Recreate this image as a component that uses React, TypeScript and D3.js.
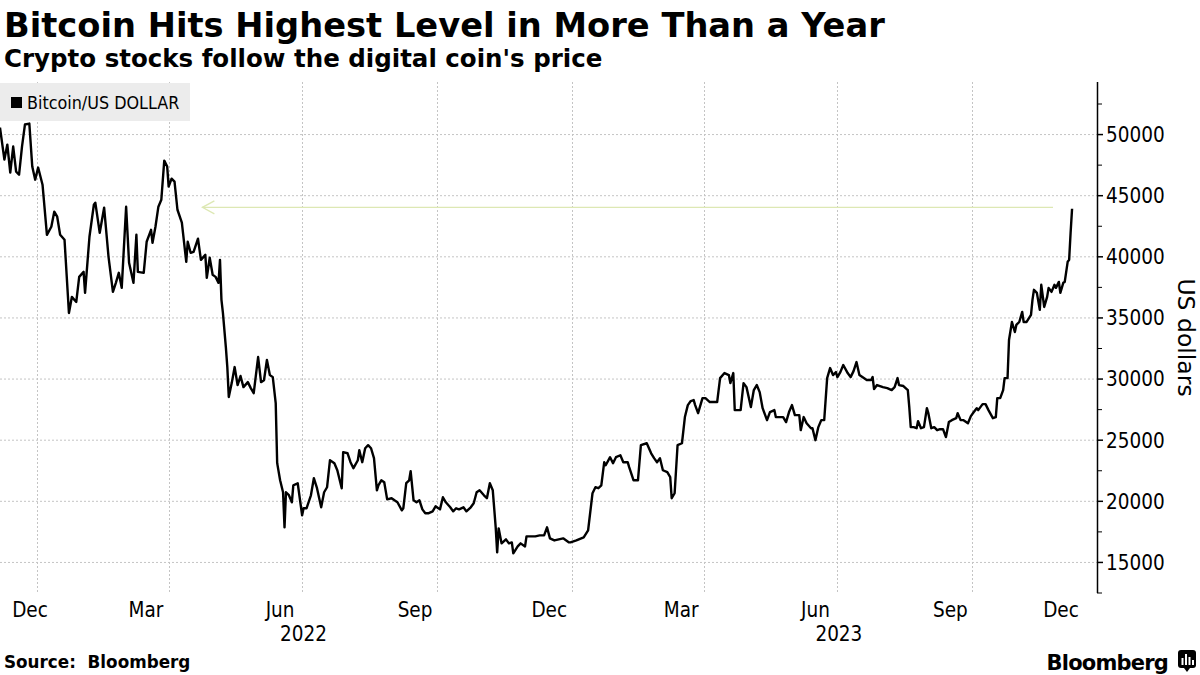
import React from "react";
import * as d3 from "d3";

// ---------- DATA ----------
const dates: string[] = [
  "2021-12-07","2021-12-10","2021-12-12","2021-12-14","2021-12-16","2021-12-18","2021-12-20","2021-12-22","2021-12-24","2021-12-27","2021-12-29","2021-12-31",
  "2022-01-02","2022-01-05","2022-01-08","2022-01-11","2022-01-13","2022-01-15","2022-01-17","2022-01-20","2022-01-23","2022-01-25","2022-01-28","2022-01-30",
  "2022-02-02","2022-02-03","2022-02-06","2022-02-09","2022-02-10","2022-02-13","2022-02-16","2022-02-19","2022-02-22","2022-02-24","2022-02-26","2022-02-28",
  "2022-03-03","2022-03-05","2022-03-08","2022-03-10","2022-03-11","2022-03-15","2022-03-17","2022-03-20","2022-03-21","2022-03-23","2022-03-25","2022-03-27","2022-03-29","2022-03-31",
  "2022-04-01","2022-04-03","2022-04-05","2022-04-07","2022-04-10","2022-04-13","2022-04-14","2022-04-16","2022-04-18","2022-04-21","2022-04-23","2022-04-26","2022-04-27","2022-04-29",
  "2022-05-01","2022-05-03","2022-05-05","2022-05-06","2022-05-07","2022-05-08","2022-05-10","2022-05-11","2022-05-12","2022-05-14","2022-05-16","2022-05-18","2022-05-20","2022-05-22","2022-05-25","2022-05-27","2022-05-29",
  "2022-06-01","2022-06-03","2022-06-05","2022-06-07","2022-06-09","2022-06-11","2022-06-13","2022-06-14","2022-06-16","2022-06-18","2022-06-19","2022-06-20","2022-06-22","2022-06-24","2022-06-25","2022-06-28",
  "2022-07-01","2022-07-02","2022-07-04","2022-07-07","2022-07-09","2022-07-11","2022-07-14","2022-07-16","2022-07-18","2022-07-20","2022-07-23","2022-07-25","2022-07-28","2022-07-29",
  "2022-08-01","2022-08-03","2022-08-05","2022-08-08","2022-08-09","2022-08-11","2022-08-13","2022-08-15","2022-08-17","2022-08-19","2022-08-21","2022-08-22","2022-08-24","2022-08-26","2022-08-28","2022-08-31",
  "2022-09-02","2022-09-04","2022-09-07","2022-09-08","2022-09-10","2022-09-12","2022-09-13","2022-09-15","2022-09-17","2022-09-19","2022-09-21","2022-09-23","2022-09-25","2022-09-28","2022-09-30",
  "2022-10-03","2022-10-05","2022-10-07","2022-10-10","2022-10-12","2022-10-14","2022-10-16","2022-10-19","2022-10-21","2022-10-24","2022-10-26","2022-10-28","2022-10-30",
  "2022-11-02","2022-11-04","2022-11-06","2022-11-08","2022-11-10","2022-11-11","2022-11-12","2022-11-14","2022-11-17","2022-11-19","2022-11-21","2022-11-22","2022-11-25","2022-11-27","2022-11-30",
  "2022-12-01","2022-12-04","2022-12-07","2022-12-10","2022-12-13","2022-12-15","2022-12-17","2022-12-20","2022-12-23","2022-12-26","2022-12-30","2022-12-31",
  "2023-01-04","2023-01-09","2023-01-12","2023-01-15","2023-01-17","2023-01-19","2023-01-21","2023-01-23","2023-01-24","2023-01-27","2023-01-29","2023-01-31",
  "2023-02-03","2023-02-05","2023-02-08","2023-02-09","2023-02-12","2023-02-15","2023-02-17","2023-02-21","2023-02-24","2023-02-26","2023-02-28",
  "2023-03-02","2023-03-04","2023-03-07","2023-03-09","2023-03-10","2023-03-12","2023-03-14","2023-03-17","2023-03-19","2023-03-21","2023-03-23","2023-03-25","2023-03-26","2023-03-28","2023-03-31",
  "2023-04-02","2023-04-05","2023-04-07","2023-04-10","2023-04-12","2023-04-15","2023-04-18","2023-04-19","2023-04-21","2023-04-22","2023-04-26","2023-04-28","2023-04-30",
  "2023-05-03","2023-05-05","2023-05-07","2023-05-09","2023-05-11","2023-05-14","2023-05-16","2023-05-19","2023-05-20","2023-05-23","2023-05-25","2023-05-27","2023-05-29","2023-05-31",
  "2023-06-02","2023-06-05","2023-06-06","2023-06-08","2023-06-10","2023-06-13","2023-06-14","2023-06-16","2023-06-18","2023-06-20","2023-06-22","2023-06-24","2023-06-26","2023-06-28","2023-06-30",
  "2023-07-01","2023-07-03","2023-07-05","2023-07-08","2023-07-10","2023-07-12","2023-07-14","2023-07-16","2023-07-19","2023-07-21","2023-07-24","2023-07-25","2023-07-26","2023-07-28",
  "2023-08-01","2023-08-04","2023-08-07","2023-08-09","2023-08-11","2023-08-12","2023-08-15","2023-08-18","2023-08-19","2023-08-20","2023-08-22","2023-08-24","2023-08-25","2023-08-27","2023-08-29","2023-08-31",
  "2023-09-01","2023-09-03","2023-09-05","2023-09-07","2023-09-09","2023-09-11","2023-09-13","2023-09-15","2023-09-17","2023-09-20","2023-09-21","2023-09-23","2023-09-25","2023-09-28","2023-09-30",
  "2023-10-02","2023-10-04","2023-10-05","2023-10-08","2023-10-10","2023-10-12","2023-10-15","2023-10-17","2023-10-18","2023-10-20","2023-10-22","2023-10-23","2023-10-25","2023-10-26","2023-10-28","2023-10-30","2023-10-31",
  "2023-11-02","2023-11-04","2023-11-05","2023-11-07","2023-11-10","2023-11-11","2023-11-12","2023-11-14","2023-11-16","2023-11-17","2023-11-19","2023-11-21","2023-11-22","2023-11-24","2023-11-26","2023-11-27","2023-11-29","2023-11-30",
  "2023-12-02","2023-12-03","2023-12-05","2023-12-06","2023-12-07","2023-12-08",
];

const prices: number[] = [
  50570,47950,49180,46890,49020,46970,46720,49020,50820,50900,47380,46310,
  47300,45900,41800,42460,43690,43280,41800,41390,35410,36720,36310,38360,
  38770,37050,41640,44260,44430,41970,44020,40000,37130,37870,38690,37460,
  44100,39510,37870,41800,38770,38690,41230,42210,41150,42460,44100,44670,47870,47380,
  45740,46390,46150,43850,42790,39590,41230,40330,40410,41480,39750,40160,38280,39920,
  38530,38360,37870,39750,36480,35410,32620,30980,28530,29670,30980,29510,30250,29340,29750,29260,28850,
  31800,29750,29900,31560,30330,30160,28030,23120,21720,20740,17870,20740,20500,19920,21310,21480,
  18850,19430,19430,20490,21890,21150,19510,20740,21150,23360,23120,22540,21070,24020,
  23930,23200,22710,23360,24180,23200,24340,24590,24340,23530,20900,21310,21720,21560,20160,20250,
  20080,19920,19260,19430,21480,21720,22460,20080,19920,20080,19340,19020,19020,19180,19590,
  19340,20330,19920,19510,19180,19430,19340,19510,19180,19510,19840,20740,20900,
  20490,20250,21480,20900,17870,15820,17790,16560,16890,16560,16640,15740,16310,16560,16310,
  17130,17130,17130,17210,17210,17870,16970,16800,16890,16970,16640,16640,
  16800,17050,17620,20660,21150,21070,21310,23200,22950,23610,23120,23610,
  23770,23200,23200,22790,21720,21720,24590,24750,23930,23530,23200,
  23530,22540,22380,21970,20250,20660,24590,24750,26890,27870,28200,28280,27870,27210,28440,
  28440,28120,28120,28120,30080,30490,30330,29670,30490,27460,27460,29670,29340,
  27710,29100,29510,28930,27620,26640,27300,27460,26890,26890,26890,26480,27300,27870,
  27050,27050,25820,26890,26390,25980,25980,25000,26070,26640,26640,30080,30900,30330,30570,
  30160,30570,31150,30490,30160,30650,31390,30330,30080,29920,29920,30160,29180,29510,
  29340,29260,29100,29340,30080,29510,29430,29100,27710,26070,26070,25980,26560,25980,26070,27620,
  27210,25980,26070,25820,25900,25900,25250,26480,26640,26800,27210,26640,26640,26390,26970,
  27300,27620,27460,27950,27950,27460,26800,26890,28440,28440,29100,30080,30080,33200,34670,33850,34430,
  34670,35490,34670,34670,35250,36480,37300,37050,35660,37710,35900,36720,37460,37130,37710,37460,37950,37050,
  37870,37950,39590,39750,41970,43930,
];

const seriesName = "Bitcoin/US DOLLAR";
const yTicks: number[] = [15000, 20000, 25000, 30000, 35000, 40000, 45000, 50000];
const yMinorTicks: number[] = [12500, 17500, 22500, 27500, 32500, 37500, 42500, 47500, 52500];
const monthLabelDates: string[] = ["2021-12-01","2022-03-01","2022-06-01","2022-09-01","2022-12-01","2023-03-01","2023-06-01","2023-09-01","2023-12-01"];
const monthLabels: string[] = ["Dec","Mar","Jun","Sep","Dec","Mar","Jun","Sep","Dec"];
const gridDates: string[] = ["2022-01-01","2022-04-01","2022-07-01","2022-10-01","2023-01-01","2023-04-01","2023-07-01","2023-10-01"];
const yearLabels: string[] = ["2022","2023"];
const arrowFrom = { date: "2023-11-25", value: 44050 };
const arrowTo = { date: "2022-04-24", value: 44050 };
const xDomain: string[] = ["2021-12-07", "2023-12-25"];
const yDomain: number[] = [12500, 54300];

// ---------- LAYOUT ----------
const W = 1200, H = 675;
const plotLeft = 0, plotRight = 1097, plotTop = 82, plotBottom = 593;
const FONT = "'DejaVu Sans', Verdana, sans-serif";
const FONT_C = "'DejaVu Sans Condensed', 'DejaVu Sans', sans-serif";

const parse = d3.utcParse("%Y-%m-%d");

export default function App() {
  const x = d3.scaleUtc().domain(xDomain.map((d) => parse(d) as Date)).range([plotLeft, plotRight]);
  const y = d3.scaleLinear().domain(yDomain).range([plotBottom, plotTop]);

  const data = dates.map((d, i) => ({ date: parse(d) as Date, value: prices[i] }));
  const line = d3.line<{ date: Date; value: number }>().x((d) => x(d.date)).y((d) => y(d.value));

  const gridColor = "#c4c4c4";
  const labelHalf = 18;

  const monthPos = monthLabelDates.map((s) => {
    const start = parse(s) as Date;
    const end = d3.utcMonth.offset(start, 1);
    const mid = (x(start) + x(end)) / 2;
    return Math.min(Math.max(mid, 12 + labelHalf), plotRight - 18 - labelHalf);
  });

  const ax1 = x(parse(arrowFrom.date) as Date);
  const ax2 = x(parse(arrowTo.date) as Date);
  const ay = y(arrowTo.value);

  return (
    <svg width={W} height={H} style={{ position: "absolute", left: 0, top: 0, background: "#fff" }}>
      <rect x={0} y={0} width={W} height={H} fill="#fff" />
      {/* title */}
      <text x={4} y={37} fontFamily={FONT} fontWeight="bold" fontSize={33.7} fill="#000">
        Bitcoin Hits Highest Level in More Than a Year
      </text>
      <text x={4} y={67} fontFamily={FONT} fontWeight="bold" fontSize={24.5} fill="#000">
        Crypto stocks follow the digital coin's price
      </text>

      {/* horizontal grid */}
      {yTicks.map((t) => (
        <line key={"hg" + t} x1={plotLeft} x2={plotRight} y1={y(t)} y2={y(t)} stroke={gridColor} strokeWidth={1} strokeDasharray="2,2" />
      ))}
      {/* vertical grid */}
      {gridDates.map((s) => {
        const gx = Math.round(x(parse(s) as Date)) + 0.5;
        return <line key={"vg" + s} x1={gx} x2={gx} y1={plotTop} y2={plotBottom} stroke={gridColor} strokeWidth={1} strokeDasharray="2,2" />;
      })}

      {/* annotation arrow */}
      <g stroke="#dde8b4" strokeWidth={1.3} fill="none">
        <line x1={ax1} x2={ax2} y1={ay} y2={ay} />
        <polyline points={`${ax2 + 12},${ay - 6.5} ${ax2},${ay} ${ax2 + 12},${ay + 6.5}`} />
      </g>

      {/* price line */}
      <path d={line(data) || ""} fill="none" stroke="#000" strokeWidth={2.4} strokeLinejoin="round" />

      {/* legend */}
      <rect x={0} y={83} width={190} height={38} fill="#ececec" />
      <rect x={11} y={97} width={11} height={11} fill="#000" />
      <text x={27} y={108.5} fontFamily={FONT_C} fontSize={17.8} fill="#000">{seriesName}</text>

      {/* right axis */}
      <line x1={plotRight + 0.5} x2={plotRight + 0.5} y1={plotTop} y2={plotBottom} stroke="#000" strokeWidth={1.5} />
      {yMinorTicks.map((t) => (
        <line key={"mt" + t} x1={plotRight} x2={plotRight + 5} y1={y(t)} y2={y(t)} stroke="#000" strokeWidth={1} />
      ))}
      {yTicks.map((t) => (
        <g key={"yt" + t}>
          <line x1={plotRight} x2={plotRight + 6} y1={y(t)} y2={y(t)} stroke="#000" strokeWidth={1.5} />
          <text x={1106} y={y(t)} dy="0.36em" fontFamily={FONT_C} fontSize={20.5} fill="#000">{t}</text>
        </g>
      ))}
      <text
        transform={`translate(1178, ${(plotTop + plotBottom) / 2}) rotate(90)`}
        textAnchor="middle"
        fontFamily={FONT}
        fontSize={23.5}
        fill="#000"
      >
        US dollars
      </text>

      {/* x labels */}
      {monthLabels.map((m, i) => (
        <text key={"ml" + i} x={monthPos[i]} y={617} textAnchor="middle" fontFamily={FONT_C} fontSize={20.5} fill="#000">{m}</text>
      ))}
      {yearLabels.map((yr) => {
        const s = parse(yr + "-01-01") as Date;
        const e = parse(yr + "-12-31") as Date;
        return (
          <text key={"yr" + yr} x={(x(s) + x(e)) / 2} y={641} textAnchor="middle" fontFamily={FONT_C} fontSize={20.5} fill="#000">{yr}</text>
        );
      })}

      {/* footer */}
      <text x={4} y={668} fontFamily={FONT} fontWeight="bold" fontSize={16.8} fill="#000" xmlSpace="preserve">Source:  Bloomberg</text>
      <text x={1168} y={670} textAnchor="end" fontFamily={FONT} fontWeight="bold" fontSize={21} letterSpacing={-0.8} fill="#000">Bloomberg</text>
      <g>
        <rect x={1178} y={650} width={18} height={18} rx={3} fill="#000" />
        <path d="M1184,668 L1187,672 L1190,668 Z" fill="#000" />
        <rect x={1181.5} y={658} width={2} height={7} fill="#fff" />
        <rect x={1185} y={654} width={2} height={11} fill="#fff" />
        <rect x={1188.5} y={657} width={2} height={8} fill="#fff" />
        <rect x={1192} y={660} width={2} height={5} fill="#fff" />
      </g>
    </svg>
  );
}
